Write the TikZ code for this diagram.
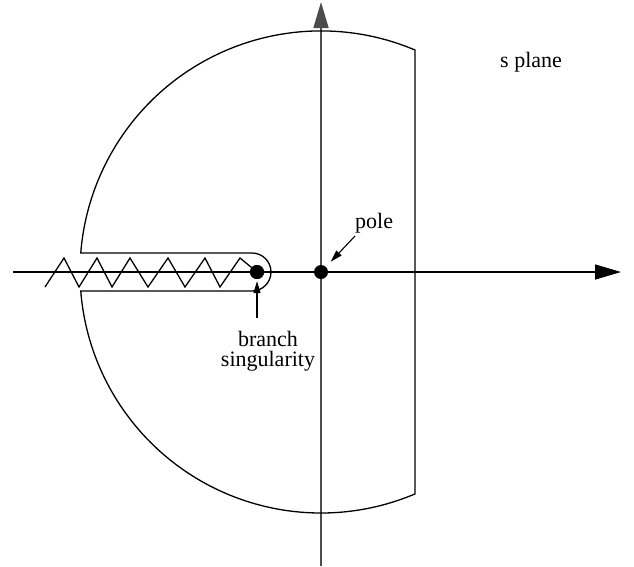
\documentclass[tikz,border=0pt]{standalone}
\usepackage{fontspec}
\setmainfont{Liberation Serif}
\usetikzlibrary{arrows.meta}
\begin{document}
\begin{tikzpicture}[x=1pt,y=-1pt,
  axis/.style={line width=1.6pt},
  bigtip/.style={-{Triangle[length=26pt,width=15pt]}},
  contour/.style={line width=1.3pt},
  lbl/.style={font=\fontsize{22}{20}\selectfont, inner sep=0pt},
  dot/.style={circle,fill=black,inner sep=0pt,minimum size=14pt},
  smallarrow/.style={line width=1.1pt,-{Triangle[length=12pt,width=7pt]}}]
\useasboundingbox (0,0) rectangle (634,566);
\coordinate (xl) at (13,272);
\coordinate (xr) at (621,272);
\coordinate (yb) at (321,566);
\coordinate (yt) at (321,2);
\draw[axis,black!70,bigtip] (yb) -- (yt);
\draw[axis,bigtip] (xl) -- (xr);
% contour
\draw[contour] (415,50) arc[start angle=-67.04, end angle=-175.48, radius=241]
  -- (252,253) arc[start angle=-90, end angle=90, radius=19]
  -- (80.75,291) arc[start angle=175.48, end angle=67.04, radius=241] -- cycle;
% dots
\node[dot] (branch) at (257,272) {};
\node[dot] (pole) at (321,272) {};
% zigzag
\draw[contour] (45,287) -- (64,258) -- (79,287) -- (97,258) -- (112,287) -- (130,258)
  -- (148,287) -- (168,258) -- (185,287) -- (205,258) -- (220,287) -- (240,258) -- (branch.center);
\node[dot] at (branch) {};
% labels
\node[lbl,anchor=base west] (polelbl) at (355,228) {pole};
\coordinate (pa) at (355,236);
\draw[smallarrow,shorten >=7pt] (pa) -- (pole);
\node[lbl,align=center,anchor=north] (brlbl) at (268,331) {branch\\singularity};
\coordinate (ba) at (257,318);
\draw[smallarrow,shorten >=2pt] (ba) -- (branch);
\node[lbl,anchor=base west] (sp) at (500,67) {s plane};
\end{tikzpicture}
\end{document}
